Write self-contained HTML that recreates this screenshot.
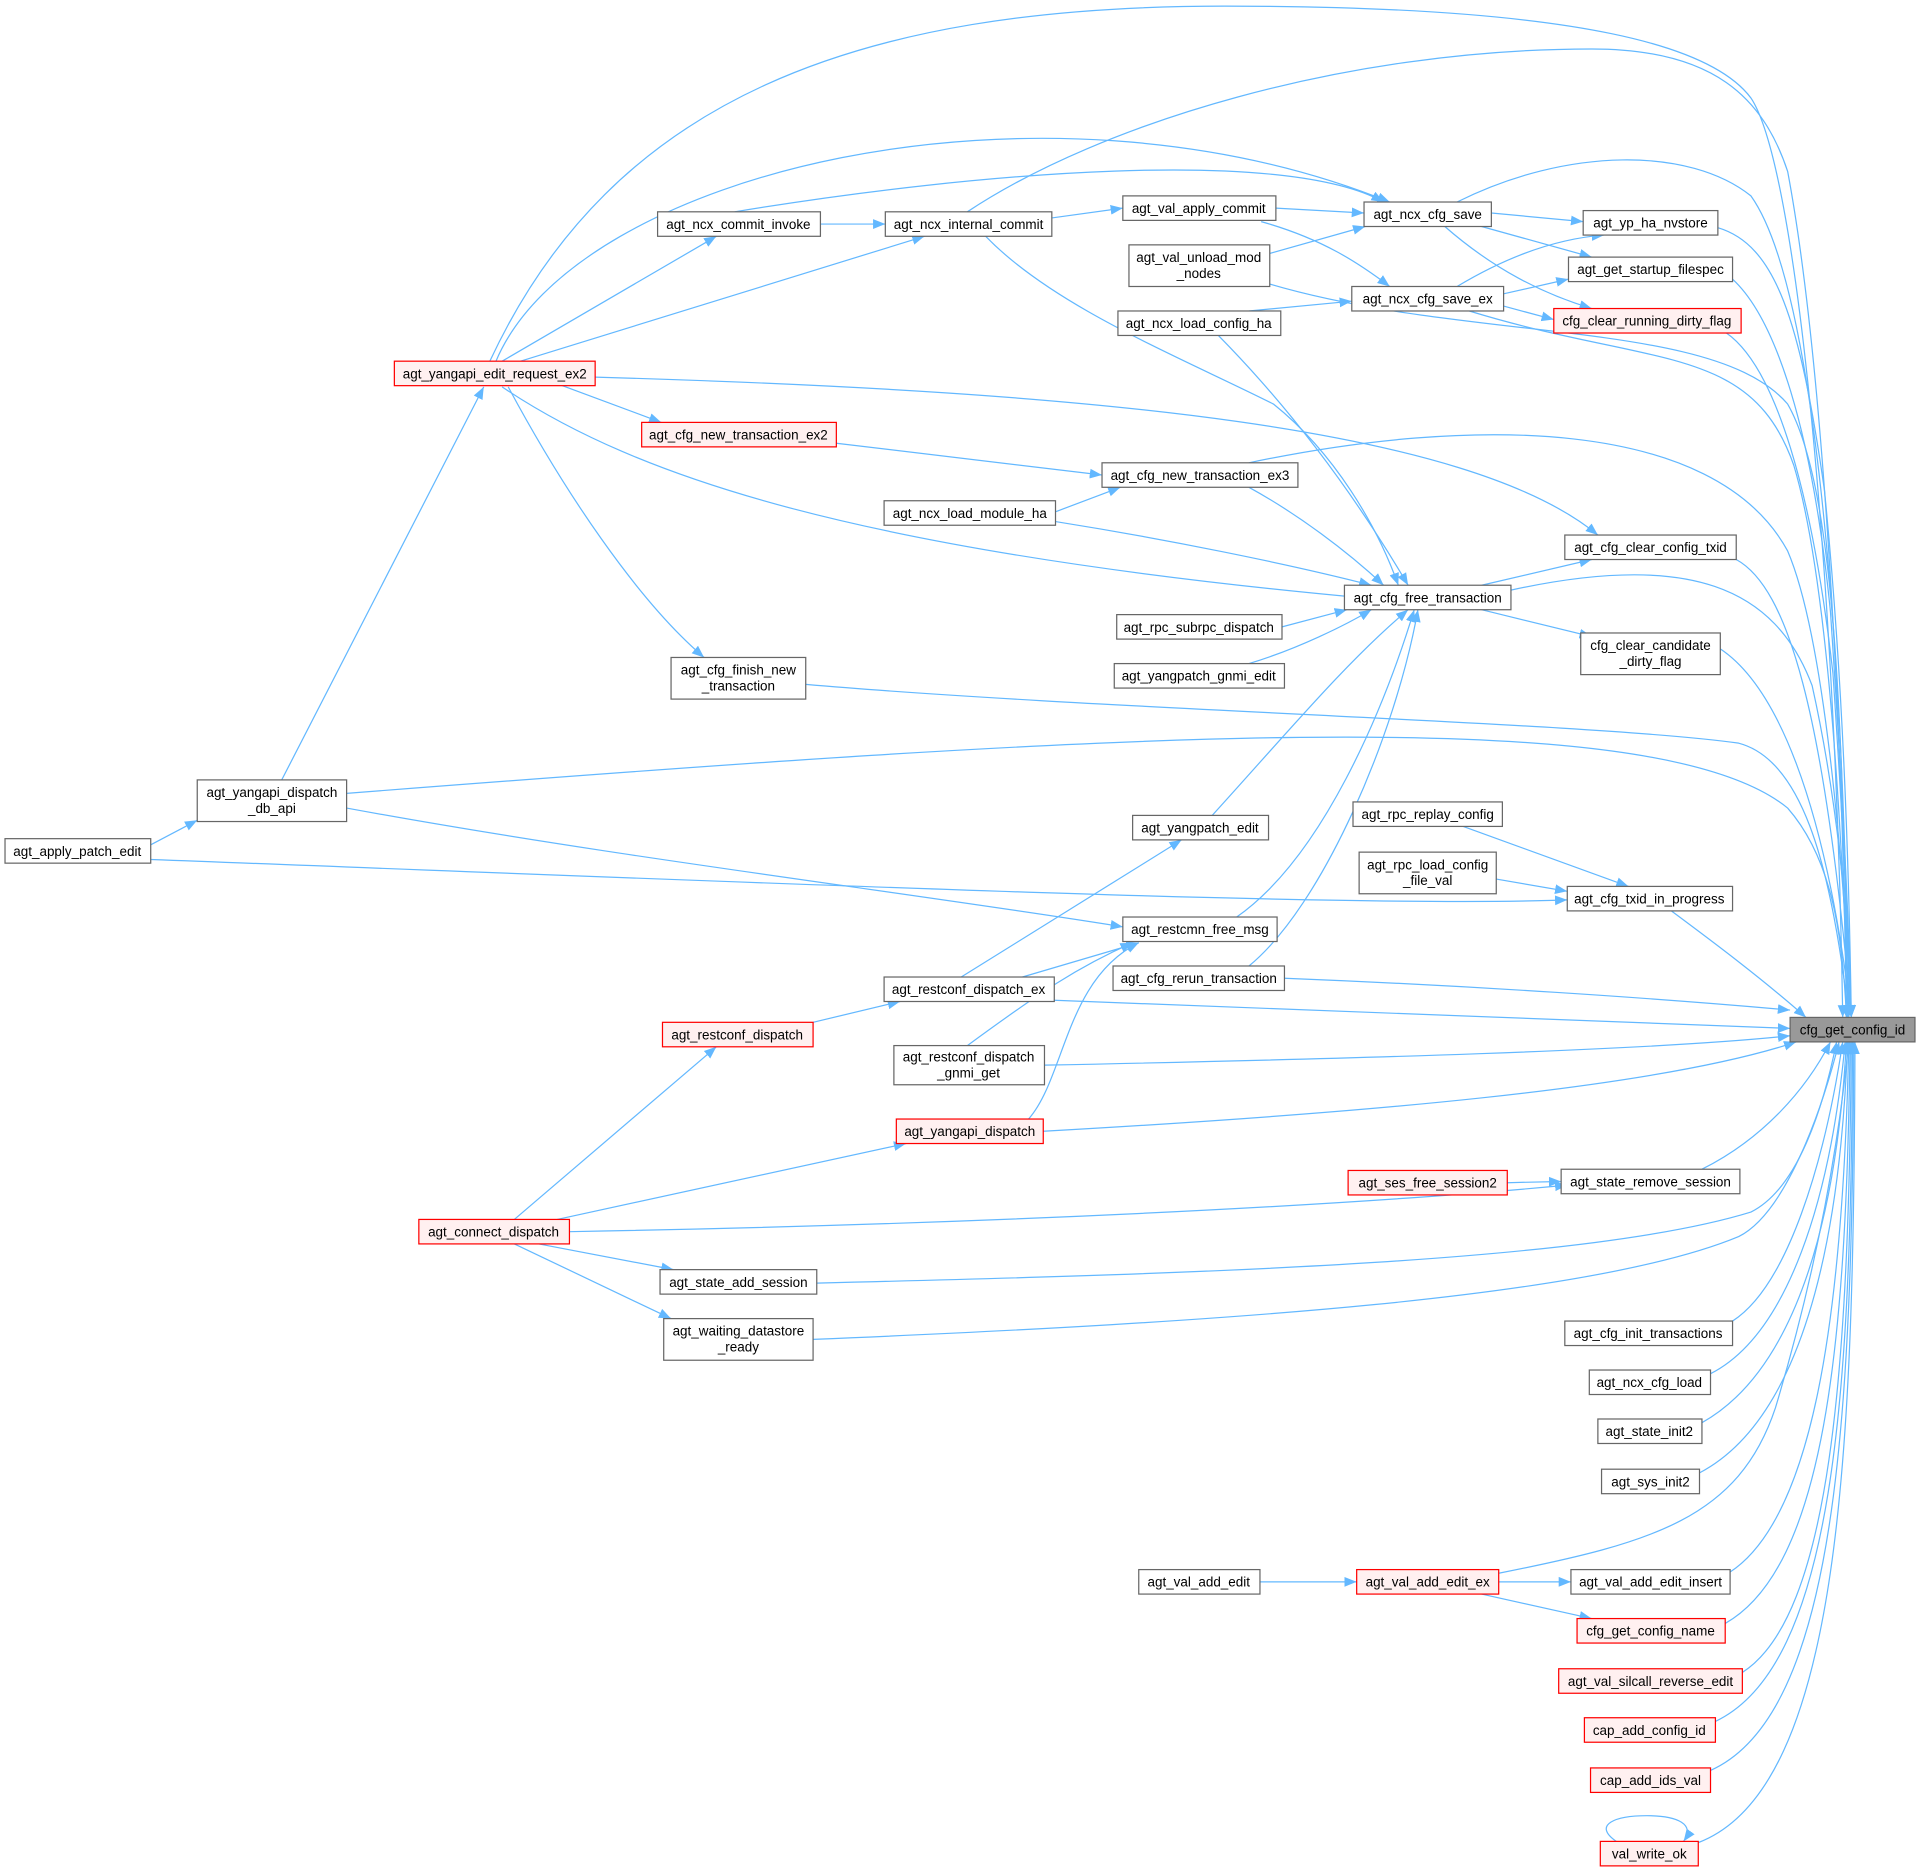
<!DOCTYPE html>
<html><head><meta charset="utf-8"><style>
html,body{margin:0;padding:0;background:#fff;}
svg{display:block;}
text{font-family:"Liberation Sans",Arial,sans-serif;font-size:11px;fill:#000;text-anchor:middle;}
.n{fill:#fff;stroke:#666;stroke-width:1;}
.r{fill:#fff0f0;stroke:#f00;stroke-width:1;}
.t{fill:#999;stroke:#666;stroke-width:1;}
path.e{fill:none;stroke:#63b8ff;stroke-width:1;marker-end:url(#a);}
</style></head><body>
<svg width="1920" height="1872" viewBox="0 0 1568 1529" xmlns="http://www.w3.org/2000/svg">
<defs><marker id="a" viewBox="0 0 10 10" refX="10" refY="5" markerWidth="10" markerHeight="10" markerUnits="userSpaceOnUse" orient="auto"><path d="M0,1 L10,5 L0,9 z" fill="#63b8ff"/></marker></defs>
<g>
<path class="e" d="M123,690 L161,670"/>
<path class="e" d="M123,702 C600,720 1100,742 1280,735"/>
<path class="e" d="M230,637 L395,316"/>
<path class="e" d="M283,648 C900,600 1350,570 1460,660 C1495,700 1505,760 1508,831"/>
<path class="e" d="M410,295 L585,193"/>
<path class="e" d="M425,295 L755,193"/>
<path class="e" d="M405,295 C470,140 850,50 1135,165"/>
<path class="e" d="M400,295 C500,80 700,5 1000,5 C1300,5 1400,40 1430,80 C1470,140 1500,500 1505,831"/>
<path class="e" d="M435,306 L540,345"/>
<path class="e" d="M410,316 C520,390 700,450 1110,488"/>
<path class="e" d="M415,316 C460,400 520,490 575,537"/>
<path class="e" d="M486,308 C900,320 1200,350 1305,437"/>
<path class="e" d="M670,183 L723,183"/>
<path class="e" d="M600,173 C800,140 1050,120 1130,165"/>
<path class="e" d="M859,178 L917,170"/>
<path class="e" d="M790,173 C900,100 1100,40 1300,40 C1400,40 1440,80 1460,140 C1490,300 1505,600 1508,831"/>
<path class="e" d="M805,193 C860,250 960,290 1040,330 C1090,370 1125,430 1142,478"/>
<path class="e" d="M1042,170 L1114,174"/>
<path class="e" d="M1030,181 C1080,195 1110,215 1135,234"/>
<path class="e" d="M1037,207 L1115,185"/>
<path class="e" d="M1037,232 C1200,280 1400,260 1460,330 C1500,400 1505,600 1509,831"/>
<path class="e" d="M1218,174 L1293,181"/>
<path class="e" d="M1210,185 L1300,210"/>
<path class="e" d="M1180,185 C1220,220 1260,240 1300,252"/>
<path class="e" d="M1190,165 C1280,120 1380,120 1430,160 C1480,230 1505,500 1510,831"/>
<path class="e" d="M1190,234 C1230,210 1270,195 1310,192"/>
<path class="e" d="M1228,240 L1281,228"/>
<path class="e" d="M1228,250 L1269,261"/>
<path class="e" d="M1200,254 C1350,300 1430,280 1465,380 C1495,480 1505,700 1510,831"/>
<path class="e" d="M1020,254 L1104,246"/>
<path class="e" d="M995,274 C1060,340 1110,410 1150,478"/>
<path class="e" d="M1403,186 C1450,200 1470,260 1490,400 C1505,550 1510,700 1512,831"/>
<path class="e" d="M1415,228 C1450,260 1480,350 1495,500 C1505,650 1510,750 1512,831"/>
<path class="e" d="M1410,272 C1450,300 1480,400 1497,550 C1507,700 1510,780 1512,831"/>
<path class="e" d="M683,362 L900,388"/>
<path class="e" d="M1020,378 C1200,340 1400,340 1460,450 C1490,520 1505,700 1512,831"/>
<path class="e" d="M1020,398 C1060,420 1100,450 1130,478"/>
<path class="e" d="M862,418 L915,398"/>
<path class="e" d="M862,426 C950,440 1050,460 1120,478"/>
<path class="e" d="M1210,478 L1300,457"/>
<path class="e" d="M1210,498 L1300,520"/>
<path class="e" d="M1234,482 C1380,450 1450,480 1480,560 C1500,650 1510,750 1512,831"/>
<path class="e" d="M1418,457 C1460,480 1490,580 1512,831"/>
<path class="e" d="M1405,530 C1450,560 1490,650 1512,831"/>
<path class="e" d="M1047,512 L1100,498"/>
<path class="e" d="M1020,542 C1060,530 1100,510 1120,498"/>
<path class="e" d="M658,559 C900,580 1300,590 1420,607 C1470,620 1495,700 1510,831"/>
<path class="e" d="M990,666 C1050,600 1100,540 1150,498"/>
<path class="e" d="M1010,749 C1080,700 1130,580 1155,498"/>
<path class="e" d="M1020,789 C1080,740 1140,600 1158,498"/>
<path class="e" d="M283,660 C500,700 750,730 917,757"/>
<path class="e" d="M1195,675 L1330,724"/>
<path class="e" d="M1222,718 L1280,728"/>
<path class="e" d="M1365,744 C1400,770 1440,800 1475,831"/>
<path class="e" d="M1049,799 C1200,805 1350,815 1462,825"/>
<path class="e" d="M861,817 C1100,825 1300,835 1462,840"/>
<path class="e" d="M785,798 L965,686"/>
<path class="e" d="M835,798 L930,770"/>
<path class="e" d="M853,870 C1100,865 1350,858 1462,846"/>
<path class="e" d="M790,854 C850,810 880,790 925,770"/>
<path class="e" d="M852,924 C1100,910 1350,890 1467,851"/>
<path class="e" d="M840,914 C870,880 870,800 930,770"/>
<path class="e" d="M664,835 L735,818"/>
<path class="e" d="M420,996 L585,855"/>
<path class="e" d="M455,996 L740,934"/>
<path class="e" d="M465,1006 C800,1000 1100,985 1280,968"/>
<path class="e" d="M1231,966 L1275,965"/>
<path class="e" d="M1390,955 C1440,930 1475,890 1495,851"/>
<path class="e" d="M440,1016 L550,1037"/>
<path class="e" d="M420,1016 L548,1077"/>
<path class="e" d="M667,1048 C1000,1040 1300,1030 1430,990 C1470,970 1490,900 1500,851"/>
<path class="e" d="M664,1094 C1000,1080 1300,1060 1420,1010 C1460,990 1490,900 1502,851"/>
<path class="e" d="M1415,1079 C1460,1050 1490,950 1505,851"/>
<path class="e" d="M1397,1122 C1460,1090 1495,980 1507,851"/>
<path class="e" d="M1390,1162 C1465,1120 1500,1000 1508,851"/>
<path class="e" d="M1388,1203 C1470,1160 1503,1020 1509,851"/>
<path class="e" d="M1224,1285 C1350,1260 1420,1240 1450,1150 C1480,1050 1500,950 1510,851"/>
<path class="e" d="M1413,1284 C1480,1240 1505,1080 1510,851"/>
<path class="e" d="M1409,1326 C1490,1280 1508,1100 1511,851"/>
<path class="e" d="M1423,1366 C1495,1320 1510,1120 1512,851"/>
<path class="e" d="M1401,1406 C1498,1360 1512,1140 1513,851"/>
<path class="e" d="M1397,1446 C1500,1400 1513,1160 1514,851"/>
<path class="e" d="M1387,1505 C1505,1460 1514,1180 1515,851"/>
<path class="e" d="M1029,1292 L1108,1292"/>
<path class="e" d="M1224,1292 L1283,1292"/>
<path class="e" d="M1210,1302 L1300,1322"/>
<path class="e" d="M1320,1504 C1300,1490 1320,1483 1345,1483 C1370,1483 1385,1490 1375,1504"/>
</g>
<g>
<rect class="t" x="1462" y="831" width="102" height="20"/><text x="1513" y="845">cfg_get_config_id</text>
<rect class="r" x="322" y="295" width="164" height="20"/><text x="404" y="309">agt_yangapi_edit_request_ex2</text>
<rect class="n" x="537" y="173" width="133" height="20"/><text x="603" y="187">agt_ncx_commit_invoke</text>
<rect class="n" x="723" y="173" width="136" height="20"/><text x="791" y="187">agt_ncx_internal_commit</text>
<rect class="n" x="917" y="160" width="125" height="20"/><text x="979" y="174">agt_val_apply_commit</text>
<rect class="n" x="922" y="200" width="115" height="34"/><text x="979" y="214">agt_val_unload_mod</text><text x="979" y="227">_nodes</text>
<rect class="n" x="1114" y="165" width="104" height="20"/><text x="1166" y="179">agt_ncx_cfg_save</text>
<rect class="n" x="1293" y="172" width="110" height="20"/><text x="1348" y="186">agt_yp_ha_nvstore</text>
<rect class="n" x="1281" y="210" width="134" height="20"/><text x="1348" y="224">agt_get_startup_filespec</text>
<rect class="n" x="1104" y="234" width="124" height="20"/><text x="1166" y="248">agt_ncx_cfg_save_ex</text>
<rect class="r" x="1269" y="252" width="153" height="20"/><text x="1345" y="266">cfg_clear_running_dirty_flag</text>
<rect class="n" x="913" y="254" width="133" height="20"/><text x="979" y="268">agt_ncx_load_config_ha</text>
<rect class="r" x="524" y="345" width="159" height="20"/><text x="603" y="359">agt_cfg_new_transaction_ex2</text>
<rect class="n" x="900" y="378" width="160" height="20"/><text x="980" y="392">agt_cfg_new_transaction_ex3</text>
<rect class="n" x="722" y="409" width="140" height="20"/><text x="792" y="423">agt_ncx_load_module_ha</text>
<rect class="n" x="1278" y="437" width="140" height="20"/><text x="1348" y="451">agt_cfg_clear_config_txid</text>
<rect class="n" x="1098" y="478" width="136" height="20"/><text x="1166" y="492">agt_cfg_free_transaction</text>
<rect class="n" x="912" y="502" width="135" height="20"/><text x="979" y="516">agt_rpc_subrpc_dispatch</text>
<rect class="n" x="1291" y="517" width="114" height="34"/><text x="1348" y="531">cfg_clear_candidate</text><text x="1348" y="544">_dirty_flag</text>
<rect class="n" x="910" y="542" width="139" height="20"/><text x="979" y="556">agt_yangpatch_gnmi_edit</text>
<rect class="n" x="548" y="537" width="110" height="34"/><text x="603" y="551">agt_cfg_finish_new</text><text x="603" y="564">_transaction</text>
<rect class="n" x="161" y="637" width="122" height="34"/><text x="222" y="651">agt_yangapi_dispatch</text><text x="222" y="664">_db_api</text>
<rect class="n" x="4" y="685" width="119" height="20"/><text x="63" y="699">agt_apply_patch_edit</text>
<rect class="n" x="1105" y="655" width="122" height="20"/><text x="1166" y="669">agt_rpc_replay_config</text>
<rect class="n" x="925" y="666" width="111" height="20"/><text x="980" y="680">agt_yangpatch_edit</text>
<rect class="n" x="1110" y="696" width="112" height="34"/><text x="1166" y="710">agt_rpc_load_config</text><text x="1166" y="723">_file_val</text>
<rect class="n" x="1280" y="724" width="135" height="20"/><text x="1347" y="738">agt_cfg_txid_in_progress</text>
<rect class="n" x="917" y="749" width="126" height="20"/><text x="980" y="763">agt_restcmn_free_msg</text>
<rect class="n" x="909" y="789" width="140" height="20"/><text x="979" y="803">agt_cfg_rerun_transaction</text>
<rect class="n" x="722" y="798" width="139" height="20"/><text x="791" y="812">agt_restconf_dispatch_ex</text>
<rect class="r" x="541" y="835" width="123" height="20"/><text x="602" y="849">agt_restconf_dispatch</text>
<rect class="n" x="730" y="854" width="123" height="32"/><text x="791" y="867">agt_restconf_dispatch</text><text x="791" y="880">_gnmi_get</text>
<rect class="r" x="732" y="914" width="120" height="20"/><text x="792" y="928">agt_yangapi_dispatch</text>
<rect class="r" x="1101" y="956" width="130" height="20"/><text x="1166" y="970">agt_ses_free_session2</text>
<rect class="n" x="1275" y="955" width="146" height="20"/><text x="1348" y="969">agt_state_remove_session</text>
<rect class="r" x="342" y="996" width="123" height="20"/><text x="403" y="1010">agt_connect_dispatch</text>
<rect class="n" x="539" y="1037" width="128" height="20"/><text x="603" y="1051">agt_state_add_session</text>
<rect class="n" x="542" y="1077" width="122" height="34"/><text x="603" y="1091">agt_waiting_datastore</text><text x="603" y="1104">_ready</text>
<rect class="n" x="1278" y="1079" width="137" height="20"/><text x="1346" y="1093">agt_cfg_init_transactions</text>
<rect class="n" x="1298" y="1119" width="99" height="20"/><text x="1347" y="1133">agt_ncx_cfg_load</text>
<rect class="n" x="1305" y="1159" width="85" height="20"/><text x="1347" y="1173">agt_state_init2</text>
<rect class="n" x="1308" y="1200" width="80" height="20"/><text x="1348" y="1214">agt_sys_init2</text>
<rect class="n" x="930" y="1282" width="99" height="20"/><text x="979" y="1296">agt_val_add_edit</text>
<rect class="r" x="1108" y="1282" width="116" height="20"/><text x="1166" y="1296">agt_val_add_edit_ex</text>
<rect class="n" x="1283" y="1282" width="130" height="20"/><text x="1348" y="1296">agt_val_add_edit_insert</text>
<rect class="r" x="1288" y="1322" width="121" height="20"/><text x="1348" y="1336">cfg_get_config_name</text>
<rect class="r" x="1273" y="1363" width="150" height="20"/><text x="1348" y="1377">agt_val_silcall_reverse_edit</text>
<rect class="r" x="1294" y="1403" width="107" height="20"/><text x="1347" y="1417">cap_add_config_id</text>
<rect class="r" x="1299" y="1444" width="98" height="20"/><text x="1348" y="1458">cap_add_ids_val</text>
<rect class="r" x="1307" y="1504" width="80" height="20"/><text x="1347" y="1518">val_write_ok</text>
</g>
</svg>
</body></html>
